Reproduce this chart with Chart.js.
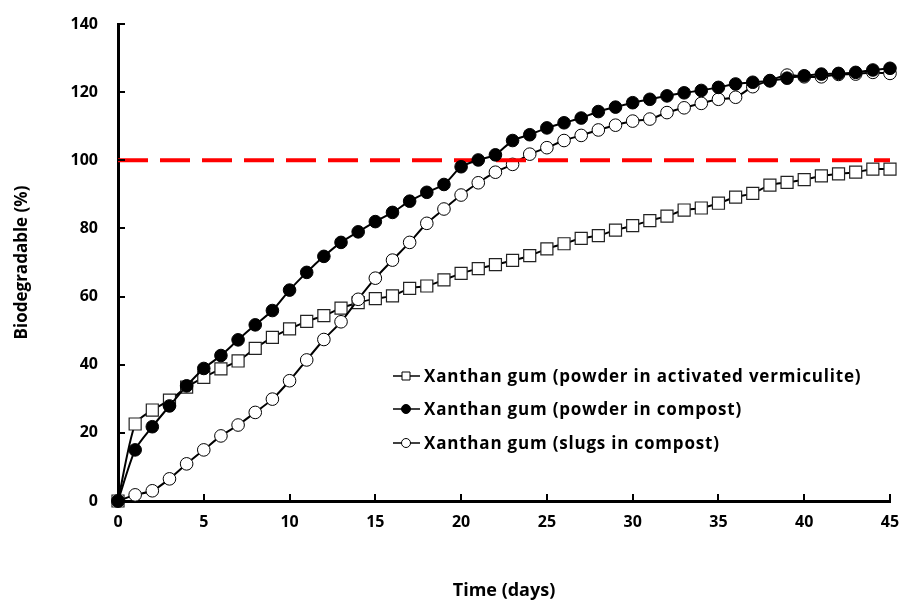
<!DOCTYPE html>
<html>
<head>
<meta charset="utf-8">
<script src="https://cdn.jsdelivr.net/npm/chart.js@4/dist/chart.umd.min.js"></script>
<style>
  html, body { margin: 0; padding: 0; background: #fff; }
  #wrap { width: 902px; height: 604px; }
</style>
</head>
<body>
<div id="wrap"><canvas id="chart" width="902" height="604"></canvas></div>
<script>
// days of measurement
const days = [0, 1, 2, 3, 4, 5, 6, 7, 8, 9, 10, 11, 12, 13, 14, 15, 16, 17, 18, 19, 20, 21, 22,
  23, 24, 25, 26, 27, 28, 29, 30, 31, 32, 33, 34, 35, 36, 37, 38, 39, 40, 41, 42, 43, 44, 45];

// biodegradation (%) per series
const vermiculite = [0, 22.6, 26.7, 29.6, 33.4, 36.3, 38.8, 41.1, 44.8, 48.0, 50.5, 52.7, 54.4, 56.6,
  58.2, 59.4, 60.2, 62.4, 63.1, 64.9, 66.8, 68.2, 69.4, 70.6, 72.0, 74.0, 75.5, 77.1, 77.9, 79.5,
  80.8, 82.3, 83.6, 85.4, 86.0, 87.4, 89.2, 90.3, 92.7, 93.5, 94.3, 95.4, 96.0, 96.5, 97.4, 97.4];
const compost = [0, 15.0, 21.8, 27.9, 33.8, 38.9, 42.7, 47.3, 51.7, 55.9, 61.9, 67.1, 71.8, 75.9,
  79.0, 82.0, 84.7, 88.0, 90.6, 92.9, 98.1, 100.1, 101.6, 105.8, 107.5, 109.5, 111.0, 112.4, 114.3,
  115.6, 116.9, 117.9, 118.9, 119.8, 120.5, 121.4, 122.4, 122.9, 123.3, 124.1, 124.8, 125.3, 125.5,
  125.8, 126.5, 127.0];
const slugs = [0, 1.8, 3.0, 6.5, 10.9, 15.0, 19.1, 22.3, 26.0, 29.9, 35.3, 41.4, 47.4, 52.6, 59.2,
  65.4, 70.7, 75.9, 81.5, 85.7, 89.8, 93.4, 96.5, 98.8, 101.8, 103.7, 105.8, 107.3, 108.9, 110.3,
  111.5, 112.1, 114.0, 115.4, 116.7, 117.9, 118.5, 121.6, 123.4, 125.0, 124.5, 124.5, 125.2, 125.3,
  125.8, 125.5];

const seriesNames = [
  "Xanthan gum (powder in activated vermiculite)",
  "Xanthan gum (powder in compost)",
  "Xanthan gum (slugs in compost)"
];
const threshold = 100;
const xTicks = [0, 5, 10, 15, 20, 25, 30, 35, 40, 45];
const yTicks = [0, 20, 40, 60, 80, 100, 120, 140];

const FONT = "'Open Sans', 'DejaVu Sans', sans-serif";

function toPoints(ys) {
  return days.map((d, i) => ({ x: d, y: ys[i] }));
}

// tick marks pointing into the plot, like the original
const innerTicks = {
  id: "innerTicks",
  afterDraw(chart) {
    const { ctx, scales: { x, y }, chartArea } = chart;
    ctx.save();
    ctx.strokeStyle = "#000";
    ctx.lineWidth = 2;
    xTicks.forEach(v => {
      const px = Math.round(x.getPixelForValue(v));
      ctx.beginPath();
      ctx.moveTo(px, chartArea.bottom);
      ctx.lineTo(px, chartArea.bottom - 7);
      ctx.stroke();
    });
    yTicks.forEach(v => {
      const py = Math.round(y.getPixelForValue(v));
      ctx.beginPath();
      ctx.moveTo(chartArea.left, py);
      ctx.lineTo(chartArea.left + 7, py);
      ctx.stroke();
    });
    ctx.restore();
  }
};

// legend drawn inside the plot
const innerLegend = {
  id: "innerLegend",
  afterDraw(chart) {
    const ctx = chart.ctx;
    const x0 = 393, x1 = 420, mx = 406, tx = 424;
    const rows = [376, 409, 443];
    ctx.save();
    ctx.font = "bold 17px " + FONT;
    ctx.letterSpacing = "0.8px";
    ctx.textBaseline = "middle";
    ctx.fillStyle = "#000";
    [0, 1, 2].forEach(i => {
      const ds = chart.data.datasets[i];
      const yy = rows[i];
      ctx.strokeStyle = "#000";
      ctx.lineWidth = 1.5;
      ctx.beginPath();
      ctx.moveTo(x0, yy);
      ctx.lineTo(x1, yy);
      ctx.stroke();
      ctx.lineWidth = 1;
      ctx.beginPath();
      if (ds.pointStyle === "rect") {
        ctx.rect(mx - 4, yy - 4, 8, 8);
      } else {
        ctx.arc(mx, yy, 4.5, 0, Math.PI * 2);
      }
      ctx.fillStyle = ds.pointBackgroundColor;
      ctx.fill();
      ctx.stroke();
      ctx.fillStyle = "#000";
      ctx.fillText(ds.label, tx, yy + 1);
    });
    ctx.restore();
  }
};

new Chart(document.getElementById("chart"), {
  type: "line",
  data: {
    datasets: [
      {
        label: seriesNames[0],
        data: toPoints(vermiculite),
        borderColor: "#000",
        borderWidth: 2,
        tension: 0.25,
        pointStyle: "rect",
        pointRadius: 8.5,
        pointBorderWidth: 1.2,
        pointBorderColor: "#222",
        pointBackgroundColor: "#fff",
        clip: false,
        order: 3
      },
      {
        label: seriesNames[1],
        data: toPoints(compost),
        borderColor: "#000",
        borderWidth: 2,
        tension: 0.25,
        pointStyle: "circle",
        pointRadius: 6.3,
        pointBorderWidth: 1,
        pointBorderColor: "#000",
        pointBackgroundColor: "#000",
        clip: false,
        order: 0
      },
      {
        label: seriesNames[2],
        data: toPoints(slugs),
        borderColor: "#000",
        borderWidth: 2,
        tension: 0.25,
        pointStyle: "circle",
        pointRadius: 6.3,
        pointBorderWidth: 1,
        pointBorderColor: "#000",
        pointBackgroundColor: "#fff",
        clip: false,
        order: 2
      },
      {
        label: "threshold",
        data: [{ x: days[0], y: threshold }, { x: days[days.length - 1], y: threshold }],
        borderColor: "#ff0000",
        borderWidth: 4,
        borderDash: [30, 12],
        pointRadius: 0,
        clip: false,
        order: 1
      }
    ]
  },
  options: {
    responsive: false,
    animation: false,
    layout: { padding: { left: 0, right: 12, top: 24, bottom: 0 } },
    plugins: {
      legend: { display: false },
      tooltip: { enabled: false }
    },
    scales: {
      x: {
        type: "linear",
        min: 0,
        max: 45,
        afterFit(scale) {
          scale.height = 103;
          scale.paddingLeft = 0;
          scale.paddingRight = 0;
        },
        afterBuildTicks(scale) { scale.ticks = xTicks.map(v => ({ value: v })); },
        grid: { drawOnChartArea: false, drawTicks: false },
        border: { color: "#000", width: 3 },
        ticks: {
          padding: 12,
          color: "#000",
          font: { family: FONT, size: 16, weight: "bold" }
        },
        title: {
          display: true,
          text: "Time (days)",
          color: "#000",
          padding: { top: 0, bottom: 2 },
          font: { family: FONT, size: 18, weight: "bold" }
        }
      },
      y: {
        min: 0,
        max: 140,
        afterFit(scale) {
          scale.width = 118;
          scale.paddingTop = 0;
          scale.paddingBottom = 0;
        },
        afterBuildTicks(scale) { scale.ticks = yTicks.map(v => ({ value: v })); },
        grid: { drawOnChartArea: false, drawTicks: false },
        border: { color: "#000", width: 3 },
        ticks: {
          padding: 20,
          color: "#000",
          font: { family: FONT, size: 16, weight: "bold" }
        },
        title: {
          display: true,
          text: "Biodegradable (%)",
          color: "#000",
          padding: { top: 12, bottom: 0 },
          font: { family: FONT, size: 17, weight: "bold" }
        }
      }
    }
  },
  plugins: [innerTicks, innerLegend]
});
</script>
</body>
</html>
